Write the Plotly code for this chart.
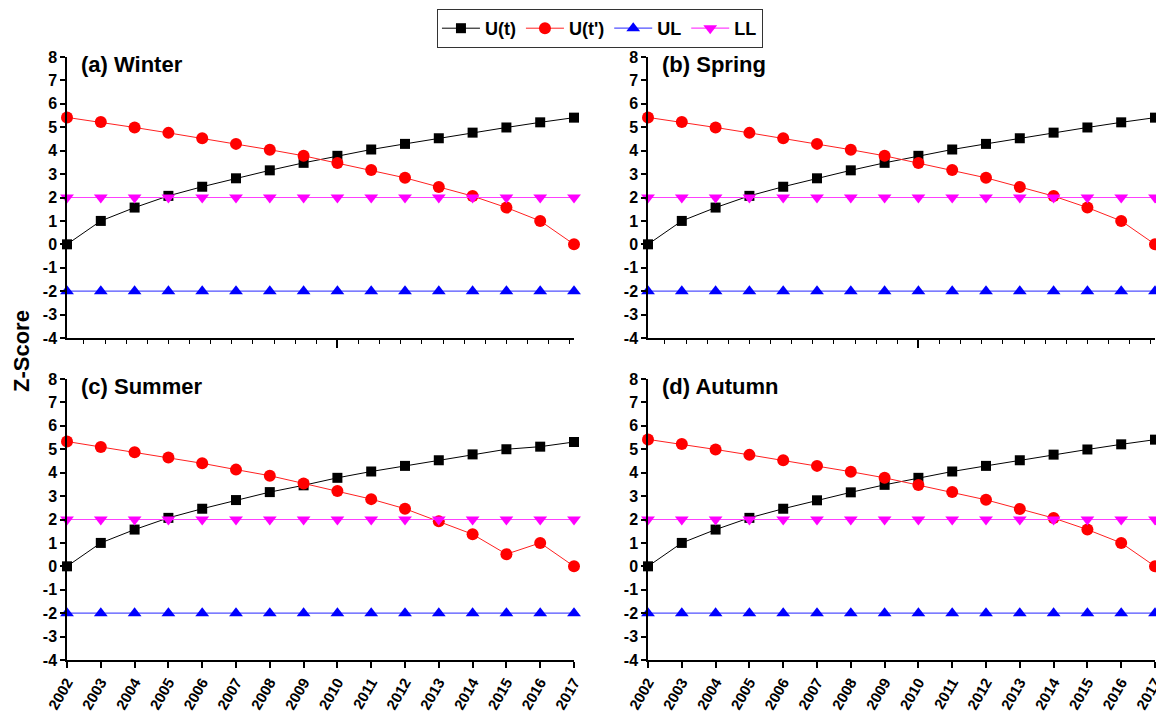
import plotly.graph_objects as go

# Mann-Kendall sequential test statistics per season
years = list(range(2002, 2018))

winter_ut = [0.0, 1.0, 1.57, 2.07, 2.46, 2.82, 3.16, 3.48, 3.78, 4.05, 4.29, 4.53, 4.77, 4.99, 5.21, 5.41]
winter_utr = [5.42, 5.22, 4.99, 4.76, 4.53, 4.29, 4.04, 3.78, 3.47, 3.17, 2.84, 2.45, 2.06, 1.57, 1.0, 0.0]

spring_ut = [0.0, 1.0, 1.57, 2.07, 2.46, 2.82, 3.16, 3.48, 3.78, 4.05, 4.29, 4.53, 4.77, 4.99, 5.21, 5.41]
spring_utr = [5.42, 5.22, 4.99, 4.76, 4.53, 4.29, 4.04, 3.78, 3.47, 3.17, 2.84, 2.45, 2.06, 1.57, 1.0, 0.0]

summer_ut = [0.0, 1.0, 1.57, 2.07, 2.46, 2.83, 3.17, 3.46, 3.78, 4.05, 4.29, 4.53, 4.78, 5.0, 5.11, 5.31]
summer_utr = [5.33, 5.1, 4.87, 4.65, 4.4, 4.13, 3.87, 3.54, 3.22, 2.87, 2.46, 1.92, 1.37, 0.52, 1.0, 0.0]

autumn_ut = [0.0, 1.0, 1.57, 2.07, 2.46, 2.82, 3.16, 3.48, 3.78, 4.05, 4.29, 4.53, 4.77, 4.99, 5.21, 5.41]
autumn_utr = [5.42, 5.22, 4.99, 4.76, 4.53, 4.29, 4.04, 3.78, 3.47, 3.17, 2.84, 2.45, 2.06, 1.57, 1.0, 0.0]

ul_value = -2.0
ll_value = 2.0

panel_titles = ["(a) Winter", "(b) Spring", "(c) Summer", "(d) Autumn"]
series_ut = [winter_ut, spring_ut, summer_ut, autumn_ut]
series_utr = [winter_utr, spring_utr, summer_utr, autumn_utr]

y_ticks = list(range(-4, 9))
y_ticktext = [str(v) for v in y_ticks]  # plain hyphen for negatives

FONT = "Arial, Liberation Sans, sans-serif"
W, H = 1156, 720

# panel layout in pixels: (left, right, top, bottom)
boxes = [
    (67, 574, 57, 338),
    (648, 1155, 57, 338),
    (67, 574, 379, 660),
    (648, 1155, 379, 660),
]

fig = go.Figure()

for i in range(4):
    xa = "x" if i == 0 else f"x{i+1}"
    ya = "y" if i == 0 else f"y{i+1}"
    show = i == 0
    ut = series_ut[i]
    utr = series_utr[i]
    fig.add_trace(go.Scatter(
        x=years, y=ut, name="U(t)", mode="lines+markers", xaxis=xa, yaxis=ya,
        line=dict(color="black", width=1),
        marker=dict(symbol="square", size=10, color="black"),
        cliponaxis=False, showlegend=show, legendgroup="ut"))
    fig.add_trace(go.Scatter(
        x=years, y=utr, name="U(t')", mode="lines+markers", xaxis=xa, yaxis=ya,
        line=dict(color="#ff2020", width=1),
        marker=dict(symbol="circle", size=12, color="#ff0000"),
        cliponaxis=False, showlegend=show, legendgroup="utr"))
    fig.add_trace(go.Scatter(
        x=years, y=[ul_value] * len(years), name="UL", mode="lines+markers", xaxis=xa, yaxis=ya,
        line=dict(color="#5050ff", width=1.2),
        marker=dict(symbol="triangle-up", size=12, color="#0000ff"),
        cliponaxis=False, showlegend=show, legendgroup="ul"))
    fig.add_trace(go.Scatter(
        x=years, y=[ll_value] * len(years), name="LL", mode="lines+markers", xaxis=xa, yaxis=ya,
        line=dict(color="#ff40ff", width=1.2),
        marker=dict(symbol="triangle-down", size=12, color="#ff00ff"),
        cliponaxis=False, showlegend=show, legendgroup="ll"))

layout = dict(
    width=W, height=H,
    margin=dict(l=0, r=0, t=0, b=0, autoexpand=False),
    paper_bgcolor="white", plot_bgcolor="white",
    font=dict(family=FONT, color="black"),
    legend=dict(
        orientation="h", x=0.519, y=0.9875, xanchor="center", yanchor="top",
        bordercolor="#333333", borderwidth=1, bgcolor="white",
        font=dict(family=FONT, size=18, color="black", weight="bold"),
        itemwidth=38, tracegroupgap=0,
    ),
    annotations=[],
)

for i, (l, r, t, b) in enumerate(boxes):
    xkey = "xaxis" if i == 0 else f"xaxis{i+1}"
    ykey = "yaxis" if i == 0 else f"yaxis{i+1}"
    xref = "x" if i == 0 else f"x{i+1}"
    yref = "y" if i == 0 else f"y{i+1}"
    bottom_row = i >= 2
    xaxis = dict(
        domain=[l / W, r / W], anchor=yref, range=[2002, 2017],
        showline=True, linecolor="black", linewidth=1.5, mirror=False,
        showgrid=False, zeroline=False, ticks="outside", tickcolor="black",
        tickwidth=1.5, automargin=False,
    )
    if bottom_row:
        xaxis.update(
            tickmode="array", tickvals=years, ticktext=[str(y) for y in years],
            ticklen=6, tickangle=-60, ticklabeloverflow="allow",
            tickfont=dict(family=FONT, size=15, color="black", weight="bold"),
        )
    else:
        xaxis.update(
            tickmode="linear", tick0=2000, dtick=10, ticklen=8, showticklabels=False,
            minor=dict(tickmode="linear", tick0=2000, dtick=0.625, ticks="outside",
                       ticklen=4, tickcolor="black", tickwidth=1.2, showgrid=False),
        )
    yaxis = dict(
        domain=[1 - b / H, 1 - t / H], anchor=xref, range=[-4, 8],
        tickmode="array", tickvals=y_ticks, ticktext=y_ticktext,
        showline=True, linecolor="black", linewidth=1.5,
        showgrid=False, zeroline=False, ticks="outside", ticklen=5,
        tickcolor="black", tickwidth=1.5, automargin=False,
        tickfont=dict(family=FONT, size=16, color="black", weight="bold"),
    )
    layout[xkey] = xaxis
    layout[ykey] = yaxis
    layout["annotations"].append(dict(
        text=panel_titles[i], xref="paper", yref="paper",
        x=(l + 12) / W, y=1 - (t - 7) / H, xanchor="left", yanchor="top",
        showarrow=False, font=dict(family=FONT, size=22, color="black", weight="bold"),
    ))

layout["annotations"].append(dict(
    text="Z-Score", xref="paper", yref="paper", x=21 / W, y=1 - 351 / H,
    xanchor="center", yanchor="middle", textangle=-90, showarrow=False,
    font=dict(family=FONT, size=22, color="black", weight="bold"),
))

fig.update_layout(**layout)
fig.write_html("out.html")
